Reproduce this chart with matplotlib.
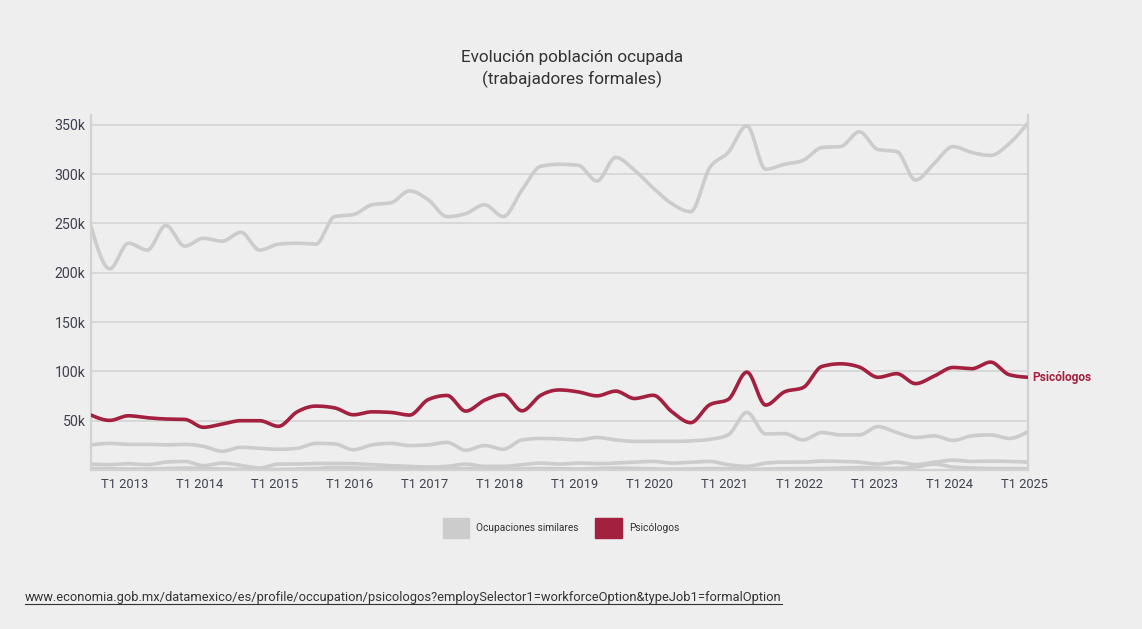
import matplotlib
matplotlib.use("Agg")
import matplotlib.pyplot as plt
from matplotlib.patches import Patch
from matplotlib.lines import Line2D
from matplotlib.transforms import ScaledTranslation
import numpy as np

plt.rcParams["font.family"] = ["Roboto", "DejaVu Sans"]

# quarterly series, T3 2012 .. T1 2025 (thousands of formal workers)
quarters = ["T%d %d" % (q, y) for y in range(2012, 2026) for q in range(1, 5)][2:53]
similar_a = [247, 204, 230, 223, 248, 227, 235, 232, 241, 223, 229, 230, 229, 257, 259, 269, 271,
             283, 274, 257, 260, 269, 257, 284, 308, 310, 309, 293, 317, 304, 286, 270, 262, 306,
             322, 349, 305, 310, 314, 327, 328, 343, 325, 323, 294, 311, 328, 322, 319, 331, 352]
similar_b = [25.5, 27, 26, 26, 25.5, 26, 24, 19, 23, 22, 21, 22, 27, 26.5, 20.5, 25.5, 27,
             24.8, 25.5, 28, 20, 24.8, 21, 30.5, 32, 31.5, 30.5, 33, 30.5, 29, 29, 29, 29.5, 31,
             35.6, 58.4, 36.6, 37, 30.5, 38, 35.6, 35.6, 44, 38, 33, 34.6, 30, 34.6, 35.6, 32, 39]
similar_c = [6, 5.4, 6.4, 5.4, 8, 8.7, 4.4, 7, 4.7, 2, 6, 6, 6.7, 6.7, 6.4, 5.4, 4.4,
             3.7, 3, 3.7, 6, 3.7, 3.7, 5.4, 7, 6, 7, 6.4, 7, 8, 8.7, 7, 8, 8.7,
             5.4, 3.7, 7, 8, 8, 9, 8.7, 8, 6, 8, 5.4, 8, 10, 8.7, 9, 8.7, 8]
similar_d = [1.5, 1.2, 1, 1, 1.5, 2, 1.5, 1, 0.5, 0.3, 0.5, 1, 1.5, 2.5, 2, 1.5, 1.2,
             1, 0.8, 1, 1.5, 1, 0.8, 1, 1.5, 1.2, 1, 1.5, 2, 1.5, 1, 0.8, 1, 1.5,
             1.2, 0.5, 1, 1.2, 1.5, 1.5, 2, 2.5, 2, 1.5, 3, 6, 3, 2, 1.5, 1.5, 1.2]
psicologos = [55.7, 50.3, 55, 53, 51.7, 51.3, 43.3, 46.6, 50, 50, 44.3, 59, 64.8, 63, 56, 59, 58.4,
              55.7, 71.5, 75.6, 59.7, 70.8, 76.5, 60, 75.8, 81.2, 79.2, 75.2, 80, 72.5, 75.8, 59, 48, 66,
              71.5, 99.3, 65.8, 79.2, 83.6, 105, 107.7, 104.4, 94, 97.7, 87.6, 95.3, 104, 102.7, 109.4, 96.6, 94]
tick_labels = ["T1 %d" % y for y in range(2013, 2026)]
y_ticks = [50, 100, 150, 200, 250, 300, 350]

RED = "#A3203F"
GREY = "#CCCCCC"
BG = "#EEEEEE"
TXT = "#3F4150"


def monotone_curve(x, y, steps=16):
    # monotone cubic in x, same shape as d3.curveMonotoneX
    x = np.asarray(x, float)
    y = np.asarray(y, float)
    h = np.diff(x)
    s = np.diff(y) / h
    m = np.zeros_like(y)
    for k in range(1, len(y) - 1):
        p = (s[k - 1] * h[k] + s[k] * h[k - 1]) / (h[k - 1] + h[k])
        m[k] = (np.sign(s[k - 1]) + np.sign(s[k])) * min(abs(s[k - 1]), abs(s[k]), 0.5 * abs(p))
    m[0] = (3 * s[0] - m[1]) / 2
    m[-1] = (3 * s[-1] - m[-2]) / 2
    xs, ys = [], []
    for k in range(len(h)):
        t = np.linspace(0, 1, steps, endpoint=False)
        h00 = 2 * t**3 - 3 * t**2 + 1
        h10 = t**3 - 2 * t**2 + t
        h01 = -2 * t**3 + 3 * t**2
        h11 = t**3 - t**2
        xs.append(x[k] + t * h[k])
        ys.append(h00 * y[k] + h10 * h[k] * m[k] + h01 * y[k + 1] + h11 * h[k] * m[k + 1])
    xs.append([x[-1]])
    ys.append([y[-1]])
    return np.concatenate(xs), np.concatenate(ys)


idx = np.arange(len(quarters))

fig = plt.figure(figsize=(11.42, 6.29), dpi=100, facecolor=BG)
ax = fig.add_axes([91 / 1142, 1 - 470 / 629, (1028 - 91) / 1142, 355 / 629])
ax.set_facecolor(BG)

for serie in [similar_d, similar_c, similar_b, similar_a]:
    xs, ys = monotone_curve(idx, np.array(serie) * 1000)
    ax.plot(xs, ys, color=GREY, lw=2.6, solid_capstyle="round", zorder=2)
xs, ys = monotone_curve(idx, np.array(psicologos) * 1000)
ax.plot(xs, ys, color=RED, lw=2.6, solid_capstyle="round", zorder=3)

ax.annotate("Psicólogos", xy=(idx[-1], psicologos[-1] * 1000), xytext=(3, 0),
            textcoords="offset points", va="center", ha="left", color=RED,
            fontsize=8.6, fontweight="bold", annotation_clip=False)

ax.set_xlim(idx[0], idx[-1])
ax.set_ylim(0, 360000)
ax.set_yticks([v * 1000 for v in y_ticks])
ax.set_yticklabels(["%dk" % v for v in y_ticks])
ax.set_xticks([quarters.index(t) for t in tick_labels])
ax.set_xticklabels(tick_labels)
ax.tick_params(length=0, labelcolor=TXT)
ax.tick_params(axis="y", pad=4, labelsize=10.2)
ax.tick_params(axis="x", pad=6, labelsize=9.3)
shift = ScaledTranslation(-4 / 100, 0, fig.dpi_scale_trans)
for lab in ax.get_xticklabels():
    lab.set_transform(lab.get_transform() + shift)
ax.grid(axis="y", color="#D6D6D6", lw=1.3, zorder=0)
ax.set_axisbelow(True)
for side in ["left", "bottom", "right"]:
    ax.spines[side].set_color("#D2D2D2")
    ax.spines[side].set_linewidth(1.6)
ax.spines["top"].set_visible(False)

fig.text(0.501, 1 - 69 / 629, "Evolución población ocupada\n(trabajadores formales)",
         ha="center", va="center", fontsize=12.3, color="#333333", linespacing=1.45)

fig.legend(handles=[Patch(facecolor=GREY, edgecolor=GREY), Patch(facecolor=RED, edgecolor=RED)],
           labels=["Ocupaciones similares", "Psicólogos"], loc="center",
           bbox_to_anchor=(561 / 1142, 1 - 528 / 629), ncol=2, frameon=False,
           handlelength=2.6, handleheight=2.8, handletextpad=0.7, columnspacing=1.6,
           fontsize=7.3, labelcolor="#333333")

src = fig.text(25 / 1142, 1 - 598 / 629,
               "www.economia.gob.mx/datamexico/es/profile/occupation/psicologos?employSelector1=workforceOption&typeJob1=formalOption",
               ha="left", va="center", fontsize=9.3, color="#333333")
fig.canvas.draw()
bb = src.get_window_extent().transformed(fig.transFigure.inverted())
fig.add_artist(Line2D([bb.x0, bb.x1], [bb.y0 + 0.001, bb.y0 + 0.001], color="#333333",
                      lw=0.8, transform=fig.transFigure))

fig.savefig("out.png", dpi=100, facecolor=BG)
